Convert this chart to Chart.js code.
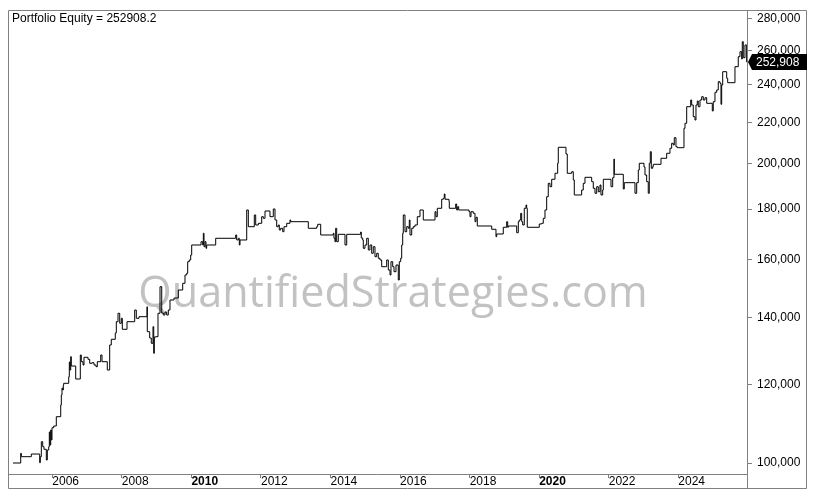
<!DOCTYPE html>
<html>
<head>
<meta charset="utf-8">
<title>Portfolio Equity</title>
<script src="https://cdn.jsdelivr.net/npm/chart.js@4.4.0/dist/chart.umd.min.js"></script>
<style>
  html, body { margin: 0; padding: 0; background: #fff; }
  #wrap { width: 815px; height: 504px; }
</style>
</head>
<body>
<div id="wrap"><canvas id="equity" width="815" height="504"></canvas></div>
<script>
// equity curve (decimal years / account value)
const years = [
  2004.870, 2005.092, 2005.109, 2005.396, 2005.638, 2005.655, 2005.684, 2005.724, 2005.761, 2005.828,
  2005.856, 2005.897, 2005.914, 2005.934, 2005.954, 2005.971, 2005.991, 2006.040, 2006.115, 2006.242,
  2006.259, 2006.279, 2006.299, 2006.316, 2006.328, 2006.472, 2006.489, 2006.509, 2006.529, 2006.546,
  2006.673, 2006.805, 2006.834, 2006.883, 2006.911, 2007.026, 2007.075, 2007.142, 2007.199, 2007.256,
  2007.294, 2007.392, 2007.429, 2007.581, 2007.650, 2007.696, 2007.811, 2007.840, 2007.889, 2007.938,
  2007.984, 2008.013, 2008.148, 2008.369, 2008.415, 2008.493, 2008.723, 2008.731, 2008.800, 2008.846,
  2008.895, 2008.916, 2008.933, 2008.982, 2009.039, 2009.097, 2009.146, 2009.192, 2009.240, 2009.289,
  2009.335, 2009.384, 2009.499, 2009.623, 2009.749, 2009.815, 2009.864, 2009.893, 2009.939, 2009.979,
  2010.008, 2010.276, 2010.324, 2010.342, 2010.362, 2010.391, 2010.419, 2010.439, 2010.698, 2011.273,
  2011.302, 2011.348, 2011.377, 2011.397, 2011.590, 2011.636, 2011.808, 2011.848, 2011.923, 2012.021,
  2012.067, 2012.116, 2012.259, 2012.354, 2012.403, 2012.452, 2012.498, 2012.527, 2012.567, 2012.625,
  2012.662, 2012.740, 2012.834, 2012.854, 2013.361, 2013.602, 2013.631, 2013.717, 2014.079, 2014.099,
  2014.128, 2014.148, 2014.177, 2014.223, 2014.416, 2014.465, 2014.867, 2014.884, 2014.925, 2014.942,
  2014.991, 2015.040, 2015.086, 2015.134, 2015.183, 2015.229, 2015.278, 2015.327, 2015.373, 2015.422,
  2015.471, 2015.615, 2015.661, 2015.710, 2015.738, 2015.787, 2015.825, 2015.882, 2015.948, 2015.977,
  2016.017, 2016.046, 2016.075, 2016.092, 2016.141, 2016.190, 2016.236, 2016.265, 2016.285, 2016.334,
  2016.380, 2016.428, 2016.495, 2016.572, 2016.667, 2017.004, 2017.032, 2017.070, 2017.196, 2017.242,
  2017.271, 2017.291, 2017.406, 2017.415, 2017.599, 2017.627, 2017.656, 2017.685, 2017.981, 2018.010,
  2018.039, 2018.105, 2018.154, 2018.182, 2018.220, 2018.634, 2018.757, 2018.778, 2018.967, 2019.065,
  2019.094, 2019.111, 2019.353, 2019.399, 2019.427, 2019.468, 2019.496, 2019.525, 2019.571, 2019.620,
  2019.640, 2019.657, 2020.002, 2020.071, 2020.117, 2020.166, 2020.215, 2020.261, 2020.310, 2020.359,
  2020.454, 2020.531, 2020.549, 2020.770, 2020.807, 2020.934, 2020.980, 2021.009, 2021.221, 2021.267,
  2021.316, 2021.509, 2021.555, 2021.604, 2021.653, 2021.699, 2021.748, 2021.776, 2021.825, 2021.843,
  2022.064, 2022.113, 2022.150, 2022.159, 2022.418, 2022.446, 2022.754, 2022.803, 2022.849, 2022.878,
  2023.013, 2023.042, 2023.090, 2023.136, 2023.165, 2023.194, 2023.223, 2023.263, 2023.280, 2023.502,
  2023.665, 2023.760, 2023.809, 2023.855, 2023.884, 2023.933, 2023.970, 2024.163, 2024.192, 2024.241,
  2024.356, 2024.384, 2024.430, 2024.479, 2024.508, 2024.545, 2024.574, 2024.623, 2024.672, 2024.718,
  2024.767, 2024.816, 2024.977, 2025.005, 2025.054, 2025.103, 2025.149, 2025.198, 2025.227, 2025.247,
  2025.276, 2025.391, 2025.420, 2025.629, 2025.724, 2025.773, 2025.822, 2025.839, 2025.868, 2025.917,
  2025.965
];
const equity = [
  100000, 102270, 101470, 102100, 100070, 101470, 105050, 103850, 103220, 100700,
  103050, 103850, 107440, 104250, 107940, 105470, 108510, 108940, 111310, 114370,
  117050, 118960, 118410, 119790, 120260, 122110, 126340, 124020, 127900, 125170,
  121460, 128400, 126430, 125460, 127720, 127130, 125960, 126130, 125460, 124970,
  126430, 128400, 126430, 124020, 131410, 133160, 135110, 138690, 141420, 138180,
  139790, 136270, 138690, 142500, 139790, 140310, 143590, 135520, 133560, 131930,
  137100, 128910, 133870, 133960, 141420, 150400, 141520, 140860, 141840, 140860,
  142500, 145840, 146510, 149250, 151590, 154530, 155140, 159360, 159990, 161850,
  165640, 166910, 165640, 170190, 164990, 166910, 164380, 165640, 168230, 169520,
  167570, 168230, 165640, 167570, 179620, 172810, 177550, 173490, 174170, 176860,
  176200, 179210, 176860, 180040, 175510, 172810, 173490, 171490, 172170, 170820,
  172810, 174170, 175510, 174820, 172170, 172810, 173770, 169520, 170190, 168230,
  166910, 172170, 166910, 169790, 165640, 169790, 170700, 168350, 167570, 164380,
  165640, 168230, 163740, 165640, 162490, 164990, 161210, 162490, 160620, 159990,
  157520, 159990, 156320, 154530, 159360, 157520, 155710, 158140, 152750, 159360,
  160620, 165640, 170190, 177550, 170820, 172810, 172170, 175510, 169520, 172170,
  172810, 173490, 176860, 179620, 175510, 178910, 176860, 180330, 184130, 184550,
  186400, 184130, 183100, 180330, 182130, 179620, 181000, 179620, 178910, 176860,
  178910, 178250, 174820, 176610, 173090, 171770, 168850, 169910, 172570, 174820,
  172570, 173090, 170420, 174820, 175510, 178250, 174820, 173490, 180330, 181710,
  180330, 172570, 173890, 174170, 176200, 179620, 185240, 191070, 189570, 192850,
  195550, 200130, 207680, 204480, 195550, 196270, 192540, 185970, 188130, 191070,
  193740, 191780, 188870, 186700, 189570, 187390, 190320, 185970, 188130, 192850,
  189570, 193570, 202130, 195100, 188570, 191340, 186700, 191340, 197050, 200130,
  198420, 194770, 191780, 186700, 200130, 205570, 197820, 198560, 199660, 202460,
  204810, 207200, 209610, 208790, 212340, 207970, 207480, 217010, 219540, 228140,
  231710, 229040, 222920, 221220, 229040, 231170, 228140, 231710, 233480, 231710,
  232940, 229940, 225880, 230800, 235870, 237130, 241730, 240840, 229410, 239890,
  247390, 243640, 241170, 250270, 256130, 259110, 254770, 265180, 255530, 263160,
  252908.2
];
const yearTicks = [2006, 2008, 2010, 2012, 2014, 2016, 2018, 2020, 2022, 2024];
const equityTicks = [100000, 120000, 140000, 160000, 180000, 200000, 220000, 240000, 260000, 280000];
const watermark = 'QuantifiedStrategies.com';

const lastValue = equity[equity.length - 1];
const grey = '#808080';

Chart.defaults.font.family = '"Liberation Sans", Arial, sans-serif';
Chart.defaults.font.size = 12;
Chart.defaults.color = '#000';

// frame, title, watermark and last value tag
const decorations = {
  id: 'decorations',
  beforeDraw(chart) {
    const ctx = chart.ctx;
    ctx.save();
    ctx.fillStyle = '#fff';
    ctx.fillRect(0, 0, chart.width, chart.height);
    ctx.restore();
  },
  beforeDatasetsDraw(chart) {
    const ctx = chart.ctx;
    const area = chart.chartArea;
    ctx.save();
    ctx.font = '50px "Open Sans"';
    const w = ctx.measureText(watermark).width;
    ctx.font = (50 * 510 / w).toFixed(1) + 'px "Open Sans"';
    ctx.fillStyle = '#c2c2c2';
    ctx.textAlign = 'center';
    ctx.textBaseline = 'alphabetic';
    ctx.fillText(watermark, area.left + 385, 307);
    ctx.restore();
  },
  afterDraw(chart) {
    const ctx = chart.ctx;
    const area = chart.chartArea;
    const yScale = chart.scales.y;
    const outerRight = chart.width - 8;
    const outerBottom = chart.height - 15;
    ctx.save();
    ctx.strokeStyle = grey;
    ctx.lineWidth = 1;
    ctx.beginPath();
    ctx.rect(area.left + 0.5, area.top + 0.5, outerRight - area.left - 1, outerBottom - area.top - 1);
    ctx.moveTo(area.left, area.bottom + 0.5);
    ctx.lineTo(area.right, area.bottom + 0.5);
    ctx.moveTo(area.right + 0.5, area.top);
    ctx.lineTo(area.right + 0.5, outerBottom);
    ctx.stroke();

    // title
    ctx.fillStyle = '#000';
    ctx.font = '12px "Liberation Sans", Arial, sans-serif';
    ctx.textAlign = 'left';
    ctx.textBaseline = 'alphabetic';
    ctx.fillText('Portfolio Equity = ' + lastValue, area.left + 4, area.top + 12);

    // last value tag on the price axis
    const y = Math.round(yScale.getPixelForValue(lastValue));
    ctx.beginPath();
    ctx.moveTo(area.right + 1, y);
    ctx.lineTo(area.right + 5, y - 8);
    ctx.lineTo(outerRight, y - 8);
    ctx.lineTo(outerRight, y + 8);
    ctx.lineTo(area.right + 5, y + 8);
    ctx.closePath();
    ctx.fillStyle = '#000';
    ctx.fill();
    ctx.fillStyle = '#fff';
    ctx.textBaseline = 'middle';
    ctx.fillText(Math.round(lastValue).toLocaleString('en-US'), area.right + 9, y + 1);
    ctx.restore();
  }
};

new Chart(document.getElementById('equity'), {
  type: 'line',
  data: {
    datasets: [{
      label: 'Portfolio Equity',
      data: years.map((x, i) => ({ x: x, y: equity[i] })),
      stepped: true,
      borderColor: '#000',
      borderWidth: 1,
      pointRadius: 0,
      fill: false
    }]
  },
  options: {
    responsive: false,
    animation: false,
    events: [],
    layout: { padding: { left: 8, top: 10, right: 8, bottom: 15 } },
    plugins: {
      legend: { display: false },
      tooltip: { enabled: false }
    },
    scales: {
      x: {
        type: 'linear',
        position: 'bottom',
        min: 2004.726,
        max: 2025.975,
        border: { display: false },
        grid: { drawOnChartArea: false, drawTicks: true, tickLength: 4, color: grey },
        afterBuildTicks: scale => { scale.ticks = yearTicks.map(v => ({ value: v })); },
        afterFit: scale => { scale.height = 15; scale.paddingLeft = 0; scale.paddingRight = 0; },
        ticks: {
          align: 'start',
          padding: -4,
          maxRotation: 0,
          autoSkip: false,
          color: '#000',
          callback: v => String(v),
          font: ctx => ({ size: 12, weight: ctx.tick && ctx.tick.value % 10 === 0 ? 'bold' : 'normal' })
        }
      },
      y: {
        type: 'logarithmic',
        position: 'right',
        min: 97486,
        max: 285370,
        border: { display: false },
        grid: { drawOnChartArea: false, drawTicks: true, tickLength: 5, color: grey },
        afterBuildTicks: scale => { scale.ticks = equityTicks.map(v => ({ value: v })); },
        afterFit: scale => { scale.width = 60; scale.paddingTop = 0; scale.paddingBottom = 0; },
        ticks: {
          padding: 5,
          color: '#000',
          callback: v => Number(v).toLocaleString('en-US')
        }
      }
    }
  },
  plugins: [decorations]
});
</script>
</body>
</html>
